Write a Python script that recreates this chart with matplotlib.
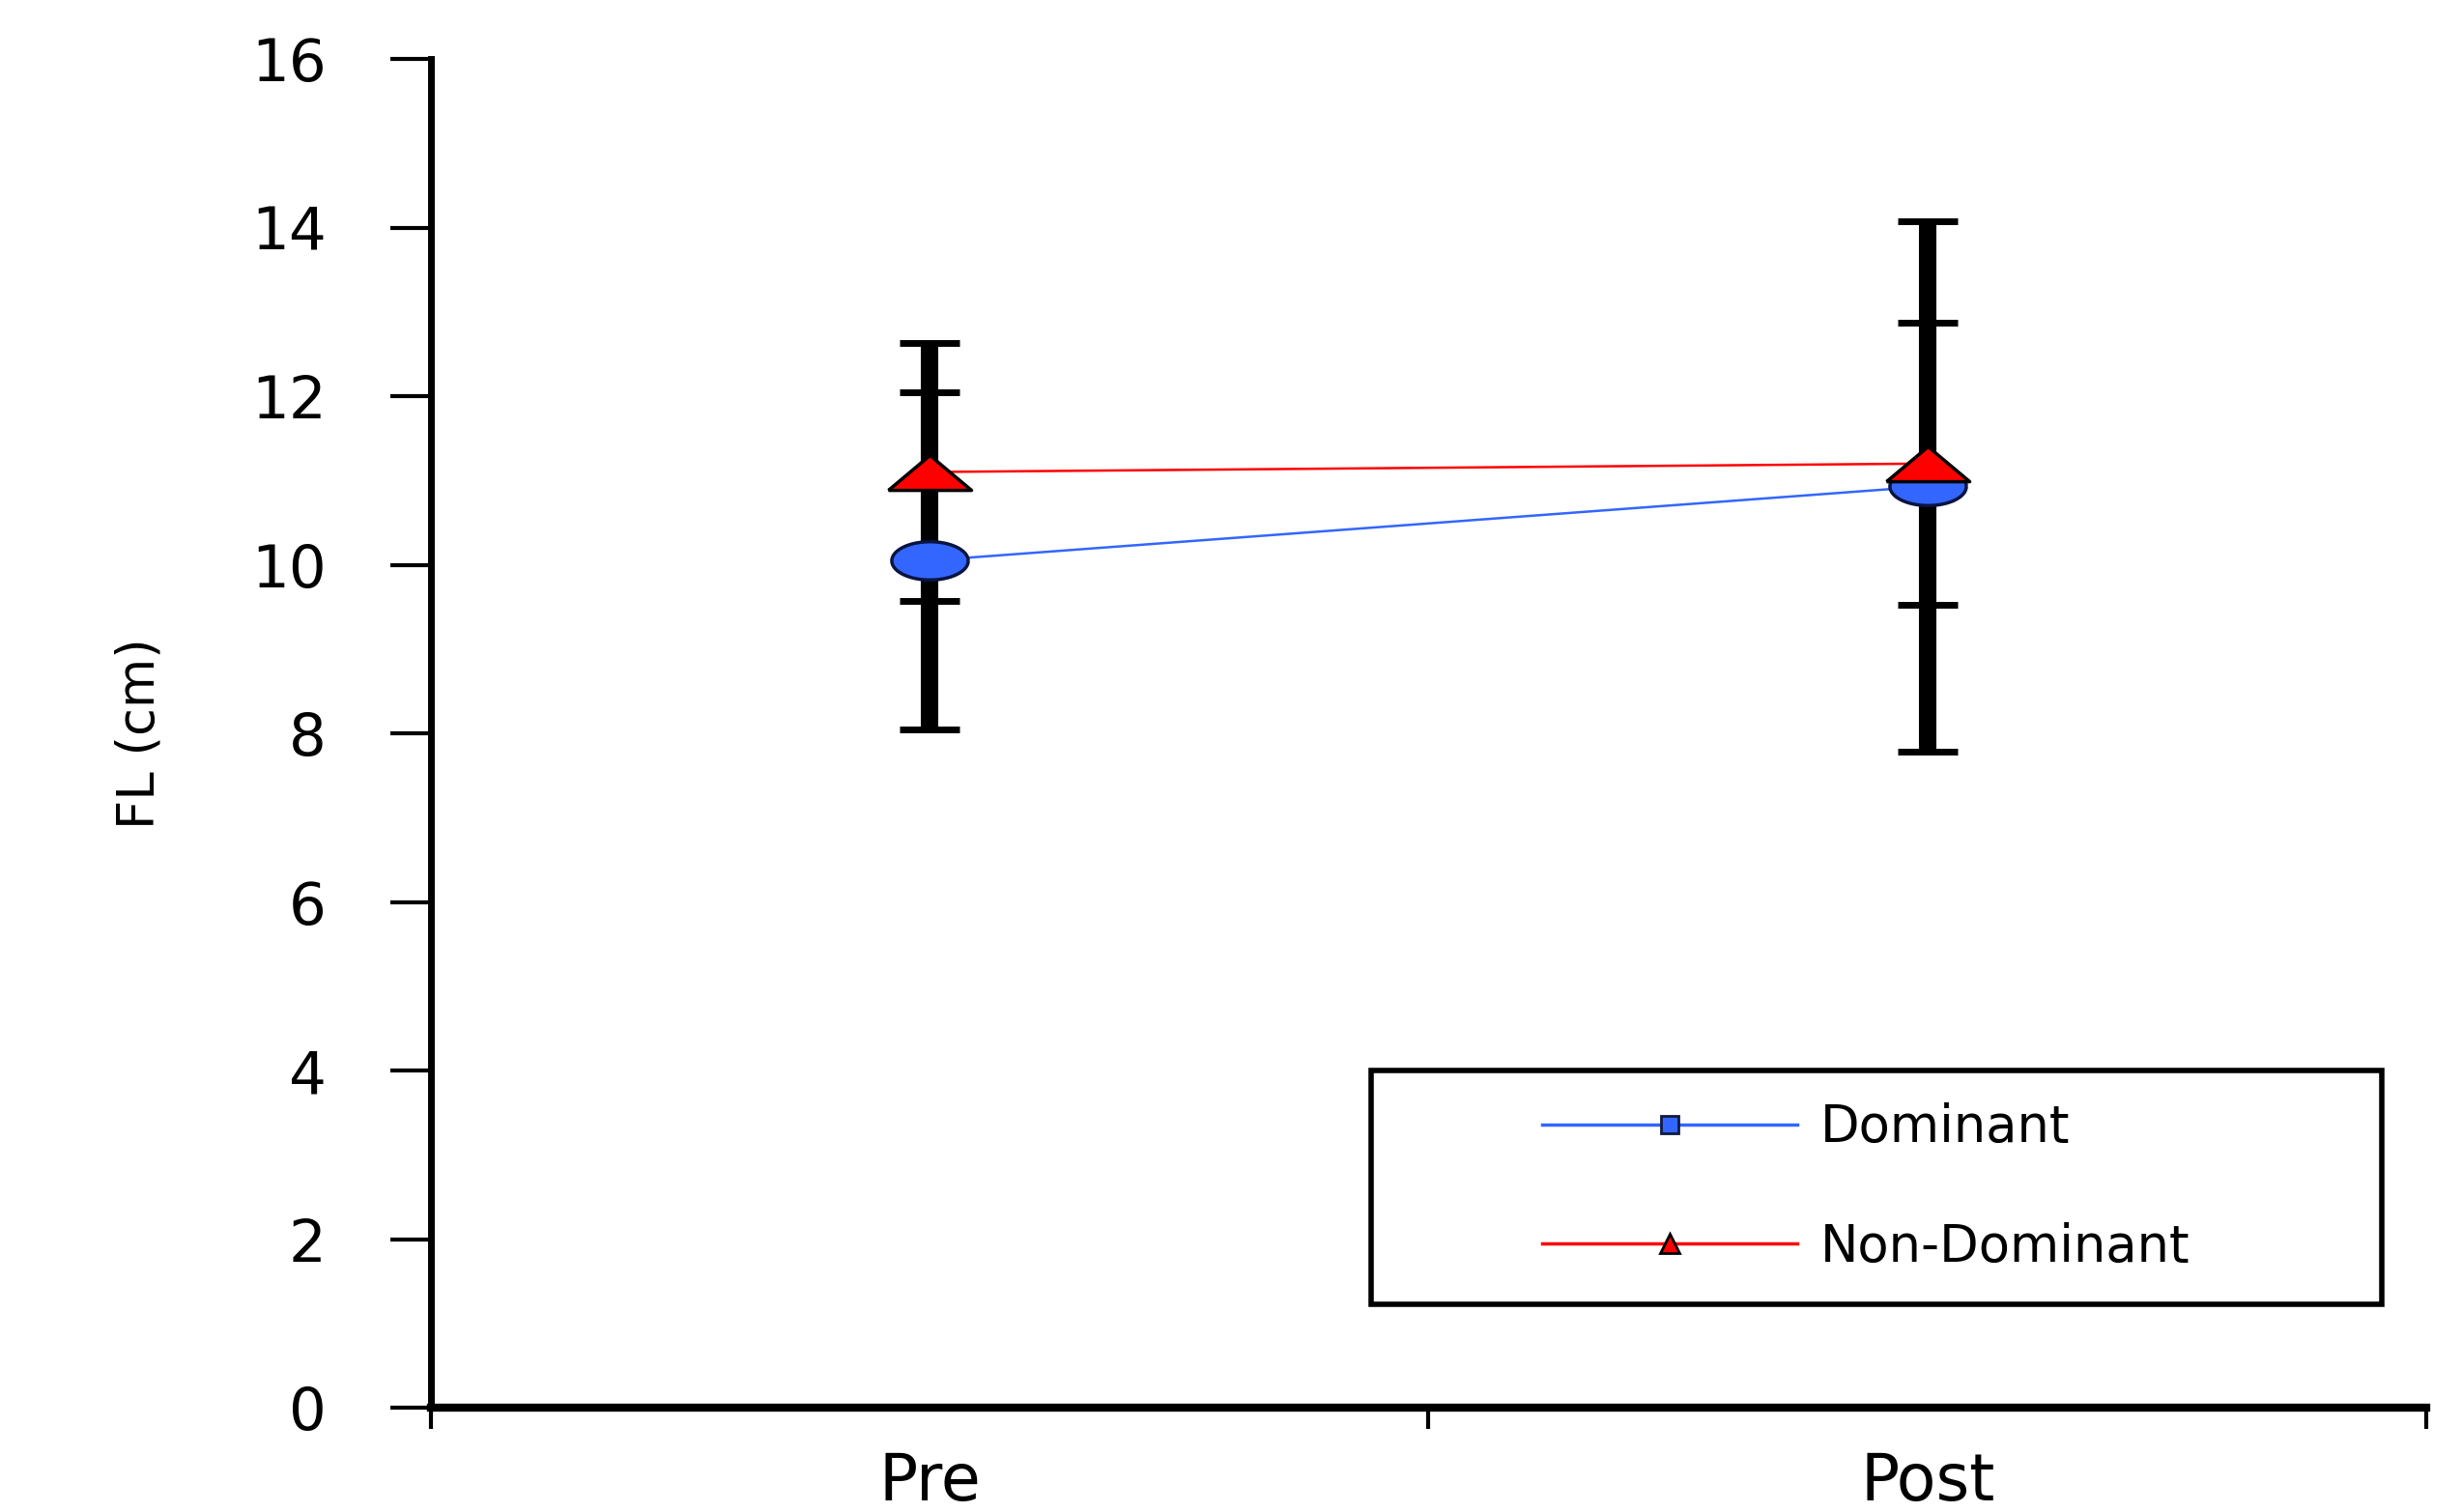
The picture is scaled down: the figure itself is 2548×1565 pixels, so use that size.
import matplotlib
matplotlib.use("Agg")
import matplotlib.pyplot as plt
import numpy as np
from matplotlib.lines import Line2D
from matplotlib.patches import Rectangle

groups = ["Pre", "Post"]
dominant_mean = [10.05, 10.93]
dominant_sd = [2.0, 3.15]
nondom_mean = [11.1, 11.2]
nondom_sd = [1.53, 1.67]

blue = "#3366FF"
red = "#FF0000"

# stretched marker shapes (the original chart is squashed vertically)
t = np.linspace(0, 2 * np.pi, 64)
ellipse = list(zip(np.cos(t), 0.5 * np.sin(t)))
triangle = [(-1, -0.42), (1, -0.42), (0, 0.42), (-1, -0.42)]

fig = plt.figure(figsize=(25.48, 15.65), dpi=100)
ax = fig.add_axes([0.175, 0.069, 0.8105, 0.892])

x = np.arange(len(groups))

ax.errorbar(x, dominant_mean, yerr=dominant_sd, fmt="none", ecolor="black",
            elinewidth=13, capsize=22.5, capthick=5, zorder=2)
ax.errorbar(x, nondom_mean, yerr=nondom_sd, fmt="none", ecolor="black",
            elinewidth=13, capsize=22.5, capthick=5, zorder=2)

ax.plot(x, dominant_mean, color=blue, lw=1.8, zorder=3)
ax.plot(x, nondom_mean, color=red, lw=1.8, zorder=3)
ax.plot(x, dominant_mean, ls="none", marker=ellipse, markersize=57,
        mfc=blue, mec="#0a1440", mew=2.5, zorder=4)
ax.plot(x, nondom_mean, ls="none", marker=triangle, markersize=62,
        mfc=red, mec="black", mew=2.5, zorder=5)

ax.set_xlim(-0.5, 1.5)
ax.set_ylim(0, 16)
ax.set_yticks(np.arange(0, 17, 2))
ax.set_xticks([-0.5, 0.5, 1.5])
ax.set_xticklabels([])
ax.set_xticks(x, minor=True)
ax.set_xticklabels(groups, minor=True)

ax.spines["top"].set_visible(False)
ax.spines["right"].set_visible(False)
ax.spines["left"].set_linewidth(5)
ax.spines["bottom"].set_linewidth(6)

ax.tick_params(axis="y", direction="out", length=30, width=3, pad=48,
               labelsize=44)
ax.tick_params(axis="x", which="major", direction="out", length=16, width=3)
ax.tick_params(axis="x", which="minor", length=0, pad=32, labelsize=48)

ax.set_ylabel("FL (cm)", fontsize=38, labelpad=64)

handles = [
    Line2D([], [], color=blue, lw=2.5, marker="s", markersize=13,
           mfc=blue, mec="#101a40", mew=2),
    Line2D([], [], color=red, lw=2.5, marker="^", markersize=14,
           mfc=red, mec="black", mew=2),
]
fig.legend(handles, ["Dominant", "Non-Dominant"], loc="center",
           bbox_to_anchor=(0.758, 0.2147), frameon=False, fontsize=38,
           handlelength=5.0, handletextpad=0.45, labelspacing=1.35)
fig.add_artist(Rectangle((1419 / 2548, 1 - 1350 / 1565), 1046 / 2548, 242 / 1565,
                         transform=fig.transFigure, fill=False,
                         edgecolor="black", lw=4))

fig.savefig("out.png", dpi=100)
